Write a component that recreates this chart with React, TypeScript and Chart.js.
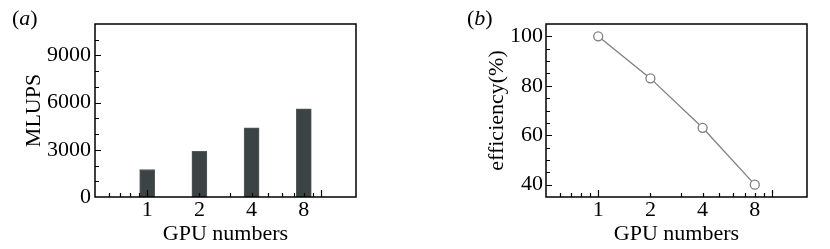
import React, { useEffect, useRef } from "react";
import { Chart, registerables } from "chart.js";

Chart.register(...registerables);

// ---- data ----
const gpuCounts = [1, 2, 4, 8];
const mlups = [1750, 2900, 4400, 5600];
const efficiency = [100, 83, 63, 40];

// ---- tick labels ----
const xTickValues = [0.6, 0.7, 0.8, 0.9, 1, 2, 3, 4, 5, 6, 7, 8, 9, 10];
const xMajorTicks = [1, 10];
const xLabels = [1, 2, 4, 8];
const yLabelsA = [0, 3000, 6000, 9000];
const yLabelsB = [40, 60, 80, 100];

const FONT = "'Liberation Serif', 'Times New Roman', serif";

const frameTicks = {
  id: "frameTicks",
  afterDraw(chart: any, _args: any, opts: any) {
    const { ctx, chartArea, scales } = chart;
    const { left, right, top, bottom } = chartArea;
    const x = scales.x;
    const y = scales.y;
    ctx.save();
    ctx.strokeStyle = "#000";
    ctx.lineWidth = 1.2;
    ctx.beginPath();
    x.ticks.forEach((t: any) => {
      const px = Math.round(x.getPixelForValue(t.value)) + 0.5;
      if (px <= left + 1 || px >= right - 1) return;
      const len = xMajorTicks.includes(t.value) ? 7 : 4;
      ctx.moveTo(px, bottom);
      ctx.lineTo(px, bottom - len);
    });
    y.ticks.forEach((t: any) => {
      const py = Math.round(y.getPixelForValue(t.value)) + 0.5;
      if (py <= top + 1 || py >= bottom - 1) return;
      const len = opts.yLabels.includes(t.value) ? 6 : 4;
      ctx.moveTo(left, py);
      ctx.lineTo(left + len, py);
    });
    ctx.stroke();
    ctx.lineWidth = 1.5;
    ctx.strokeRect(left, top, right - left, bottom - top);
    ctx.restore();
  },
};

function xScale(height: number) {
  return {
    type: "logarithmic",
    min: 0.5,
    max: 16,
    offset: false,
    grid: { display: false, drawTicks: false },
    border: { display: false },
    afterBuildTicks: (scale: any) => {
      scale.ticks = xTickValues.map((v) => ({ value: v }));
    },
    afterFit: (scale: any) => {
      scale.height = height;
    },
    ticks: {
      autoSkip: false,
      maxRotation: 0,
      minRotation: 0,
      padding: 0,
      color: "#000",
      font: { family: FONT, size: 22 },
      callback: (v: any) => (xLabels.includes(Number(v)) ? String(v) : ""),
    },
    title: {
      display: true,
      text: "GPU numbers",
      color: "#000",
      font: { family: FONT, size: 22 },
      padding: { top: 0, bottom: 2 },
    },
  };
}

function yScale(
  min: number,
  max: number,
  step: number,
  labels: number[],
  title: string,
  width: number,
  titlePad: number,
  tickPad: number
) {
  return {
    type: "linear",
    min,
    max,
    grid: { display: false, drawTicks: false },
    border: { display: false },
    afterFit: (scale: any) => {
      scale.width = width;
    },
    ticks: {
      stepSize: step,
      autoSkip: false,
      padding: tickPad,
      color: "#000",
      font: { family: FONT, size: 22 },
      callback: (v: any) => (labels.includes(Number(v)) ? String(v) : ""),
    },
    title: {
      display: true,
      text: title,
      color: "#000",
      font: { family: FONT, size: 22 },
      padding: { top: titlePad, bottom: 0 },
    },
  };
}

function BarPanel() {
  const ref = useRef<HTMLCanvasElement>(null);
  useEffect(() => {
    const chart = new Chart(ref.current as HTMLCanvasElement, {
      type: "bar",
      data: {
        datasets: [
          {
            data: gpuCounts.map((g, i) => ({ x: g, y: mlups[i] })),
            backgroundColor: "#3c4344",
            borderColor: "#535a5b",
            borderWidth: 1,
            barThickness: 15,
          },
        ],
      },
      options: {
        responsive: false,
        devicePixelRatio: 1,
        animation: false,
        layout: { padding: { top: 24, right: 59, left: 0, bottom: 0 } },
        plugins: {
          legend: { display: false },
          tooltip: { enabled: false },
          frameTicks: { yLabels: yLabelsA },
        },
        scales: {
          x: xScale(52),
          y: yScale(0, 11000, 1000, yLabelsA, "MLUPS", 95, 21, 4),
        },
      } as any,
      plugins: [frameTicks],
    });
    return () => chart.destroy();
  }, []);
  return <canvas ref={ref} width={415} height={249} />;
}

function LinePanel() {
  const ref = useRef<HTMLCanvasElement>(null);
  useEffect(() => {
    const chart = new Chart(ref.current as HTMLCanvasElement, {
      type: "line",
      data: {
        datasets: [
          {
            data: gpuCounts.map((g, i) => ({ x: g, y: efficiency[i] })),
            borderColor: "#7f7f7f",
            borderWidth: 1.3,
            pointRadius: 4.5,
            pointBorderWidth: 1.3,
            pointBackgroundColor: "#ffffff",
            pointBorderColor: "#7f7f7f",
            tension: 0,
          },
        ],
      },
      options: {
        responsive: false,
        devicePixelRatio: 1,
        animation: false,
        layout: { padding: { top: 24, right: 23, left: 0, bottom: 0 } },
        plugins: {
          legend: { display: false },
          tooltip: { enabled: false },
          frameTicks: { yLabels: yLabelsB },
        },
        scales: {
          x: xScale(52),
          y: yScale(35, 105, 5, yLabelsB, "efficiency(%)", 131, 69, 3),
        },
      } as any,
      plugins: [frameTicks],
    });
    return () => chart.destroy();
  }, []);
  return <canvas ref={ref} width={415} height={249} />;
}

const panelLabel: React.CSSProperties = {
  position: "absolute",
  top: 5,
  fontFamily: FONT,
  fontSize: 22,
  lineHeight: "26px",
  color: "#000",
  whiteSpace: "nowrap",
};

export default function App() {
  return (
    <div
      style={{
        position: "absolute",
        left: 0,
        top: 0,
        width: 830,
        height: 249,
        background: "#fff",
        overflow: "hidden",
      }}
    >
      <div style={{ position: "absolute", left: 0, top: 0, width: 415, height: 249 }}>
        <BarPanel />
      </div>
      <div style={{ position: "absolute", left: 415, top: 0, width: 415, height: 249 }}>
        <LinePanel />
      </div>
      <div style={{ ...panelLabel, left: 12 }}>
        (<i>a</i>)
      </div>
      <div style={{ ...panelLabel, left: 467 }}>
        (<i>b</i>)
      </div>
    </div>
  );
}
